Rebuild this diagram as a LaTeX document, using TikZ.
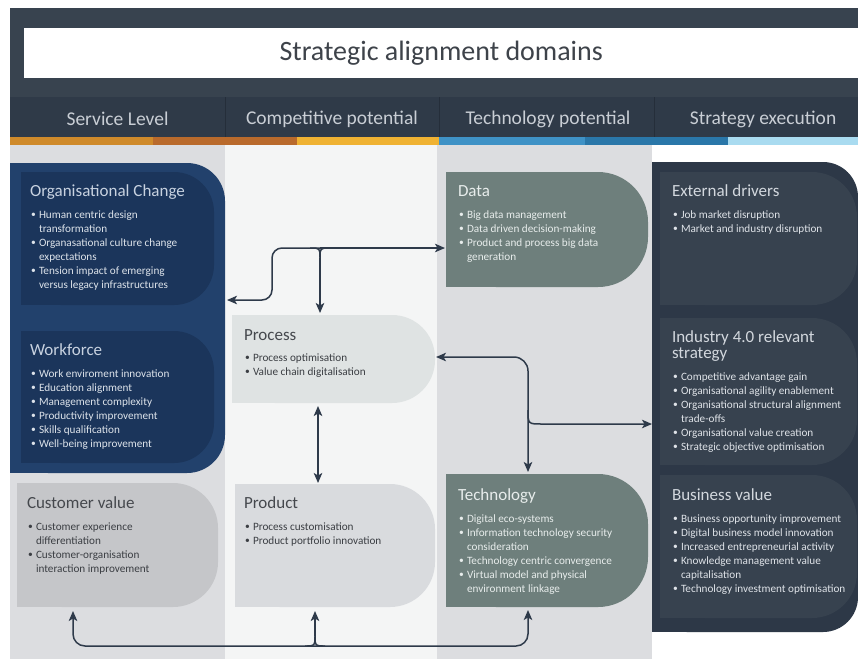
\documentclass[tikz,border=0pt]{standalone}
\usepackage{fontspec}
\setmainfont{Carlito}
\usetikzlibrary{arrows.meta}
\definecolor{hdr}{HTML}{38434F}
\definecolor{hdrrow}{HTML}{2F3A48}
\definecolor{hdrdiv}{HTML}{252E3A}
\definecolor{hdrtxt}{HTML}{C9CED5}
\definecolor{titlec}{HTML}{3E434A}
\definecolor{stA}{HTML}{CF8A2B}
\definecolor{stB}{HTML}{B96A2C}
\definecolor{stC}{HTML}{EFB233}
\definecolor{stD}{HTML}{3F92C6}
\definecolor{stE}{HTML}{2A77A9}
\definecolor{stF}{HTML}{A9DBF0}
\definecolor{colgray}{HTML}{DCDDE0}
\definecolor{colwhite}{HTML}{F4F5F5}
\definecolor{blueO}{HTML}{22416C}
\definecolor{blueI}{HTML}{1B355B}
\definecolor{custc}{HTML}{C5C6C9}
\definecolor{procc}{HTML}{DFE3E3}
\definecolor{prodc}{HTML}{D9DBDE}
\definecolor{greenc}{HTML}{6E7F7C}
\definecolor{darkO}{HTML}{2D3847}
\definecolor{darkI}{HTML}{37424F}
\definecolor{linec}{HTML}{2E3A4A}
\definecolor{bluettl}{HTML}{C8D2E0}
\definecolor{bluetxt}{HTML}{DDE3EA}
\definecolor{grayttl}{HTML}{45484D}
\definecolor{graytxt}{HTML}{3B3E43}
\definecolor{greentxt}{HTML}{E8EDEC}
\definecolor{darkttl}{HTML}{D3D8DE}
\definecolor{darktxt}{HTML}{DFE3E8}

\newcommand\bu[1]{\par\hangindent=8pt\hangafter=1\noindent\makebox[8pt][l]{\raisebox{0.3pt}{\scalebox{0.85}{\textbullet}}}#1}
\newcommand\blist[1]{\parbox[t]{205pt}{\fontsize{11.2}{14}\selectfont #1}}
\newcommand\btitle[1]{\parbox[t]{205pt}{\fontsize{17}{16}\selectfont #1}}
\newcommand\shp[7]{%
  \node[inner sep=0pt, outer sep=0pt, minimum width=#4pt, minimum height=#5pt, anchor=north west] (#1) at (#2,#3) {};
  \fill[#6, rounded corners=#7pt] (#1.north west) rectangle (#1.south east);
  \fill[#6] (#1.north west) rectangle ([xshift=-#7pt-1pt]#1.south east);}

\tikzset{
  txt/.style={anchor=base west, inner sep=0pt, outer sep=0pt},
  hlbl/.style={text=hdrtxt, font=\fontsize{19.5}{22}\selectfont, inner sep=0pt},
  cn/.style={draw=linec, line width=1.5pt},
  tip/.style={-{Stealth[length=10pt,width=8.5pt,inset=2.5pt]}},
  tips/.style={{Stealth[length=10pt,width=8.5pt,inset=2.5pt]}-{Stealth[length=10pt,width=8.5pt,inset=2.5pt]}},
}

\begin{document}
\begin{tikzpicture}[x=1pt, y=-1pt]
\useasboundingbox (0,0) rectangle (858,659);
\fill[white] (0,0) rectangle (858,659);

% header
\fill[hdr] (10,8) rectangle (858,97);
\node[fill=white, inner sep=0pt, minimum width=834pt, minimum height=50pt, anchor=north west,
      font=\fontsize{28}{30}\selectfont, text=titlec] (title) at (24,28) {Strategic alignment domains};
\fill[hdrrow] (10,97) rectangle (858,137);
\draw[hdrdiv, line width=0.8pt] (225,97) -- (225,137) (439,97) -- (439,137) (654,97) -- (654,137);
\node[hlbl] (h1) at (117.5,119) {Service Level};
\node[hlbl] (h2) at (332,119) {Competitive potential};
\node[hlbl] (h3) at (548,119) {Technology potential};
\node[hlbl] (h4) at (763,119) {Strategy execution};
\fill[stA] (10,137) rectangle (153,145);
\fill[stB] (153,137) rectangle (297,145);
\fill[stC] (297,137) rectangle (439,145);
\fill[stD] (439,137) rectangle (585,145);
\fill[stE] (585,137) rectangle (728,145);
\fill[stF] (728,137) rectangle (858,145);

% columns
\fill[colgray] (10,145) rectangle (225,659);
\fill[colwhite] (225,145) rectangle (437,659);
\fill[colgray] (437,145) rectangle (652,659);

% shapes
\shp{orgpanel}{10}{163}{215}{310}{blueO}{38}
\shp{orginner}{21}{172}{193}{133}{blueI}{40}
\shp{workinner}{21}{331}{193}{132}{blueI}{40}
\shp{custval}{17}{483}{201}{124}{custc}{45}
\shp{process}{232}{315}{203}{88}{procc}{43}
\shp{product}{235}{484}{200}{123}{prodc}{45}
\shp{data}{446}{172}{202}{115}{greenc}{50}
\shp{tech}{446}{474}{202}{133}{greenc}{50}
\shp{stratpanel}{652}{162}{206}{470}{darkO}{35}
\shp{extinner}{660}{172}{197}{133}{darkI}{45}
\shp{indinner}{660}{318}{197}{147}{darkI}{45}
\shp{businner}{660}{475}{197}{143}{darkI}{45}

% texts
\node[txt, text=bluettl] (t1) at (30,196) {\btitle{Organisational Change}};
\node[txt, text=bluetxt] (b1) at (31,218) {\blist{\bu{Human centric design\newline transformation}\bu{Organasational culture change\newline expectations}\bu{Tension impact of emerging\newline versus legacy infrastructures}}};
\node[txt, text=bluettl] (t2) at (30,355) {\btitle{Workforce}};
\node[txt, text=bluetxt] (b2) at (31,377) {\blist{\bu{Work enviroment innovation}\bu{Education alignment}\bu{Management complexity}\bu{Productivity improvement}\bu{Skills qualification}\bu{Well-being improvement}}};
\node[txt, text=grayttl] (t3) at (27,508) {\btitle{Customer value}};
\node[txt, text=graytxt] (b3) at (28,530) {\blist{\bu{Customer experience\newline differentiation}\bu{Customer-organisation\newline interaction improvement}}};
\node[txt, text=grayttl] (t4) at (244,340) {\btitle{Process}};
\node[txt, text=graytxt] (b4) at (245,361) {\blist{\bu{Process optimisation}\bu{Value chain digitalisation}}};
\node[txt, text=grayttl] (t5) at (244,508) {\btitle{Product}};
\node[txt, text=graytxt] (b5) at (245,530) {\blist{\bu{Process customisation}\bu{Product portfolio innovation}}};
\node[txt, text=greentxt] (t6) at (458,196) {\btitle{Data}};
\node[txt, text=greentxt] (b6) at (459,218) {\blist{\bu{Big data management}\bu{Data driven decision-making}\bu{Product and process big data\newline generation}}};
\node[txt, text=greentxt] (t7) at (458,500) {\btitle{Technology}};
\node[txt, text=greentxt] (b7) at (459,522) {\blist{\bu{Digital eco-systems}\bu{Information technology security\newline consideration}\bu{Technology centric convergence}\bu{Virtual model and physical\newline environment linkage}}};
\node[txt, text=darkttl] (t8) at (672,196) {\btitle{External drivers}};
\node[txt, text=darktxt] (b8) at (673,218) {\blist{\bu{Job market disruption}\bu{Market and industry disruption}}};
\node[txt, text=darkttl] (t9) at (672,342) {\btitle{Industry 4.0 relevant\\strategy}};
\node[txt, text=darktxt] (b9) at (673,380) {\blist{\bu{Competitive advantage gain}\bu{Organisational agility enablement}\bu{Organisational structural alignment\newline trade-offs}\bu{Organisational value creation}\bu{Strategic objective optimisation}}};
\node[txt, text=darkttl] (t10) at (672,500) {\btitle{Business value}};
\node[txt, text=darktxt] (b10) at (673,522) {\blist{\bu{Business opportunity improvement}\bu{Digital business model innovation}\bu{Increased entrepreneurial activity}\bu{Knowledge management value\newline capitalisation}\bu{Technology investment optimisation}}};

% connectors
\coordinate (j1) at (320,248);
\coordinate (y300) at (0,300);
\draw[cn, tip, rounded corners=10pt] (j1) -- (272,248) -- (272,300) -- ([xshift=2pt]orgpanel.east |- y300);
\draw[cn, tip] (j1) -- ([xshift=-1pt]data.west |- j1);
\draw[cn, tip] ([yshift=-10pt]j1) -- ([yshift=2pt]process.north -| j1);
\draw[cn] ([xshift=-10pt]j1) .. controls (j1) .. ([yshift=-10pt]j1);
\draw[cn] ([xshift=10pt]j1) .. controls (j1) .. ([yshift=-10pt]j1);

\coordinate (x318) at (318,0);
\draw[cn, tips] ([yshift=-3pt]process.south -| x318) -- ([yshift=1pt]product.north -| x318);

\coordinate (k) at (528,357);
\coordinate (j3) at (528,424);
\draw[cn, tips, rounded corners=14pt] ([xshift=1pt]process.east |- k) -- (k) -- ([yshift=2pt]tech.north -| k);
\draw[cn, tip] ([yshift=14pt]j3) .. controls (j3) .. ([xshift=14pt]j3) -- (stratpanel.west |- j3);

\coordinate (c1) at (73,646);
\coordinate (c2) at (315,646);
\coordinate (c3) at (528,646);
\draw[cn, tips, rounded corners=12pt] ([yshift=-4pt]custval.south -| c1) -- (c1) -- (c3) -- ([yshift=-3pt]tech.south -| c3);
\draw[cn, tip] ([yshift=10pt]c2) -- ([yshift=-4pt]product.south -| c2);
\draw[cn] ([xshift=-10pt]c2) .. controls (c2) .. ([yshift=10pt]c2);
\draw[cn] ([xshift=10pt]c2) .. controls (c2) .. ([yshift=10pt]c2);
\end{tikzpicture}
\end{document}
